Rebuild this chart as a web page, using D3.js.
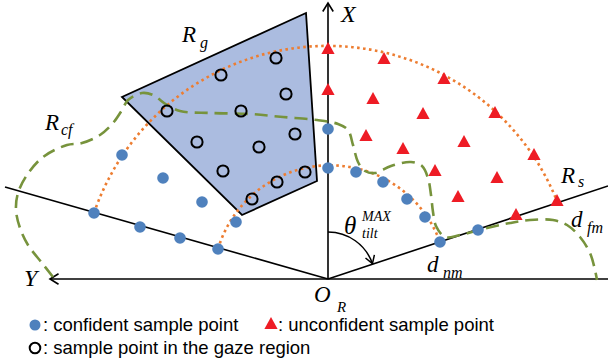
<!DOCTYPE html>
<html><head><meta charset="utf-8">
<script src="https://cdn.jsdelivr.net/npm/d3@7"></script>
<style>
html,body{margin:0;padding:0;background:#fff;}
svg text.m{font-family:"Liberation Serif","DejaVu Serif",serif;font-style:italic;}
svg text.lg{font-family:"Liberation Sans",Arial,sans-serif;}
</style></head>
<body>
<svg id="c" width="608" height="362"></svg>
<script>
// ---- data (units: offsets from origin O_R; u to the right, v upward) ----
const confidentPoints = [[0,150],[0,111],[28,107],[55,97],[79,80],[97,62],[112,37],[150,49],
  [-206,124],[-165,101],[-126,77],[-92,57],[-234,66],[-188,52],[-148,41],[-110,30]];
const unconfidentPoints = [[0,230],[56,220],[116,200],[167,166],[206,124],[0,189],[45,180],[95,165],
  [38,143],[136,137],[75,130],[107,108],[169,101],[130,82],[229,78],[188,64]];
const gazePoints = [[-52,221],[-107,204],[-42,185],[-161,168],[-87,168],[-131,137],[-69,132],
  [-33,145],[-105,108],[-23,107],[-51,97],[-76,80]];
const gazeRegion = [[-22,266],[-206,182],[-86,64],[-11,98]];
const confidenceBoundary = [[-275,2],[-286,16],[-300,34],[-308,51],[-312,69],[-310,86],[-301,104],
  [-285,122],[-261,134],[-246,136],[-228,144],[-215,156],[-206,169],[-200,179],[-186,186],[-175,184],
  [-161,174],[-148,168],[-118,166],[-78,165],[-45,162],[-11,159],[10,155],[20,149],[25,134],[30,117],
  [37,108],[47,106],[63,113],[83,117],[94,113],[100,101],[103,84],[105,67],[108,53],[117,42],[132,44],
  [159,51],[182,56],[202,59],[225,59],[239,54],[252,42],[262,26],[267,9],[269,-1]];
// sensing-range arcs: start point, end point, radius
const rangeArcs = [
  {start:[-234,66], end:[229,78], r:247},
  {start:[-110,30], end:[112,37], r:117}
];
const boundaryLines = [
  [[-323,92],[0,0]],
  [[0,0],[280,93]]
];
const axisY = [[0,0],[-278,0]];
const axisYExt = [[0,0],[280,0]];
const axisX = [[0,0],[0,276]];
const tiltAngleDeg = 71;
const tiltRadius = 47;
const legendItems = [
  {kind:"dot", text:": confident sample point"},
  {kind:"tri", text:": unconfident sample point"},
  {kind:"circle", text:": sample point in the gaze region"}
];

// ---- scales ----
const x = d3.scaleLinear().domain([-328,280]).range([0,608]);
const y = d3.scaleLinear().domain([0,279]).range([279,0]);
const svg = d3.select("#c");

const BLUE = "#4f81bd", RED = "#ee1c25", ORANGE = "#ed7d31", GREEN = "#77933c", FILL = "#abbce0";

const line = d3.line().x(d=>x(d[0])).y(d=>y(d[1]));

// gaze region polygon
svg.append("path").attr("d", line(gazeRegion) + "Z")
  .attr("fill", FILL).attr("stroke", "#000").attr("stroke-width", 1.8).attr("stroke-linejoin","miter");

// axes & boundary lines
const axG = svg.append("g").attr("stroke","#000").attr("fill","none").attr("stroke-width",1.6);
boundaryLines.forEach(l=>axG.append("path").attr("d", line(l)));
axG.append("path").attr("d", line(axisY));
axG.append("path").attr("d", line(axisYExt));
axG.append("path").attr("d", line(axisX));
function chevron(tip, dir, len, spread){
  const a = Math.atan2(dir[1], dir[0]);
  const p1 = [tip[0]-len*Math.cos(a-spread), tip[1]-len*Math.sin(a-spread)];
  const p2 = [tip[0]-len*Math.cos(a+spread), tip[1]-len*Math.sin(a+spread)];
  return `M${p1[0]},${p1[1]}L${tip[0]},${tip[1]}L${p2[0]},${p2[1]}`;
}
axG.append("path").attr("d", chevron([x(axisX[1][0]), y(axisX[1][1])],[0,-1],10,0.55));
axG.append("path").attr("d", chevron([x(axisY[1][0]), y(axisY[1][1])],[-1,0],10,0.55));

// tilt angle arc
const ox = x(0), oy = y(0), tr = x(tiltRadius)-x(0);
const ta = tiltAngleDeg*Math.PI/180;
const tEnd = [ox + tr*Math.sin(ta), oy - tr*Math.cos(ta)];
axG.append("path").attr("d", `M${ox},${oy-tr}A${tr},${tr} 0 0 1 ${tEnd[0]},${tEnd[1]}`).attr("stroke-width",1.5);
axG.append("path").attr("d", chevron(tEnd,[Math.cos(ta),Math.sin(ta)],9,0.55)).attr("stroke-width",1.5);

// orange dotted arcs
rangeArcs.forEach(a=>{
  const r = x(a.r)-x(0);
  svg.append("path")
    .attr("d", `M${x(a.start[0])},${y(a.start[1])}A${r},${r} 0 0 1 ${x(a.end[0])},${y(a.end[1])}`)
    .attr("fill","none").attr("stroke",ORANGE).attr("stroke-width",2.6).attr("stroke-dasharray","2.6,3.4");
});

// green dashed boundary
svg.append("path").attr("d", d3.line().x(d=>x(d[0])).y(d=>y(d[1])).curve(d3.curveCatmullRom)(confidenceBoundary))
  .attr("fill","none").attr("stroke",GREEN).attr("stroke-width",2.6).attr("stroke-dasharray","13,7");

// points
svg.append("g").selectAll("circle").data(confidentPoints).join("circle")
  .attr("cx",d=>x(d[0])).attr("cy",d=>y(d[1])).attr("r",5.8).attr("fill",BLUE);
const triPath = "M0,-7L6.6,5L-6.6,5Z";
svg.append("g").selectAll("path").data(unconfidentPoints).join("path")
  .attr("transform",d=>`translate(${x(d[0])},${y(d[1])})`).attr("d",triPath).attr("fill",RED);
svg.append("g").selectAll("circle").data(gazePoints).join("circle")
  .attr("cx",d=>x(d[0])).attr("cy",d=>y(d[1])).attr("r",5.6).attr("fill","none")
  .attr("stroke","#000").attr("stroke-width",2);

// math labels: list of [text, x, baseline, size]
function mlabel(parts){
  parts.forEach(p=>{
    svg.append("text").attr("class","m").attr("x",p[1]).attr("y",p[2]).attr("font-size",p[3]).text(p[0]);
  });
}
mlabel([["X",341,22,24]]);
mlabel([["R",182,42,23],["g",200,48,16]]);
mlabel([["R",45,130,23],["cf",61,135,16]]);
mlabel([["R",561,183,23],["s",578,187,16]]);
mlabel([["d",571,227,23],["fm",587,233,16]]);
mlabel([["d",427,272,23],["nm",443,278,16]]);
mlabel([["O",314,302,23],["R",337,312,15]]);
mlabel([["Y",24,286,24]]);
mlabel([["θ",344,234,25],["MAX",362,221,14],["tilt",362,238,14]]);

// legend
const lg = svg.append("g");
const rows = [[35,325],[271,324],[35,348]];
const tx = [[43,331],[278,331],[43,354]];
legendItems.forEach((it,i)=>{
  const [cx,cy] = rows[i];
  if (it.kind==="dot") lg.append("circle").attr("cx",cx).attr("cy",cy).attr("r",5.5).attr("fill",BLUE);
  if (it.kind==="tri") lg.append("path").attr("transform",`translate(${cx},${cy})`).attr("d",triPath).attr("fill",RED);
  if (it.kind==="circle") lg.append("circle").attr("cx",cx).attr("cy",cy).attr("r",5.3).attr("fill","none").attr("stroke","#000").attr("stroke-width",2);
  lg.append("text").attr("class","lg").attr("x",tx[i][0]).attr("y",tx[i][1]).attr("font-size",18.5).attr("fill","#000").text(it.text);
});
</script>
</body></html>
